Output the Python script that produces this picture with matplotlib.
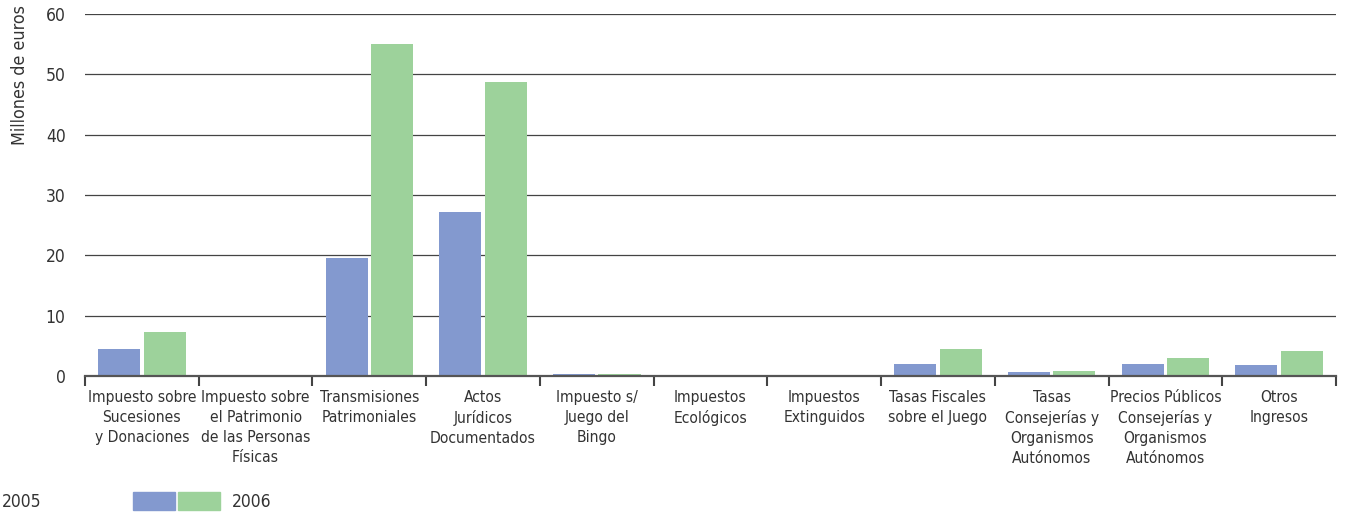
import numpy as np
import matplotlib.pyplot as plt
from matplotlib.patches import Rectangle

categories = [
    "Impuesto sobre\nSucesiones\ny Donaciones",
    "Impuesto sobre\nel Patrimonio\nde las Personas\nFísicas",
    "Transmisiones\nPatrimoniales",
    "Actos\nJurídicos\nDocumentados",
    "Impuesto s/\nJuego del\nBingo",
    "Impuestos\nEcológicos",
    "Impuestos\nExtinguidos",
    "Tasas Fiscales\nsobre el Juego",
    "Tasas\nConsejerías y\nOrganismos\nAutónomos",
    "Precios Públicos\nConsejerías y\nOrganismos\nAutónomos",
    "Otros\nIngresos",
]
values_2005 = [4.5, 0.25, 19.6, 27.2, 0.4, 0.1, 0.0, 2.0, 0.7, 2.0, 1.8]
values_2006 = [7.3, 0.1, 55.0, 48.7, 0.4, 0.1, 0.0, 4.5, 0.9, 3.0, 4.2]
yticks = [0, 10, 20, 30, 40, 50, 60]

blue = '#8399cf'
green = '#9dd29b'
txt = '#333333'

plt.rcParams['font.family'] = ['DejaVu Sans']
plt.rcParams['font.stretch'] = 'condensed'

fig = plt.figure(figsize=(13.47, 5.16), dpi=100)
ax = fig.add_axes([0.0631, 0.2713, 0.9287, 0.7016])

x = np.arange(len(categories))
w = 0.37
ax.bar(x - 0.2, values_2005, width=w, color=blue, zorder=3)
ax.bar(x + 0.2, values_2006, width=w, color=green, zorder=3)

ax.set_xlim(-0.5, len(categories) - 0.5)
ax.set_ylim(0, 60)
ax.set_yticks(yticks)
ax.yaxis.grid(True, color='#444444', lw=0.9, zorder=0)
ax.tick_params(axis='y', length=0, labelsize=12.5, colors=txt, pad=14)

ax.set_xticks(x)
ax.set_xticklabels(categories, fontsize=11.2, color=txt, linespacing=1.42)
ax.set_xticks(np.arange(-0.5, len(categories)), minor=True)
ax.tick_params(axis='x', which='major', length=0, pad=10)
ax.tick_params(axis='x', which='minor', length=7, width=1.5, color='#444444', direction='out')

for s in ['left', 'right', 'top']:
    ax.spines[s].set_visible(False)
ax.spines['bottom'].set_color('#555555')
ax.spines['bottom'].set_linewidth(1.6)
ax.spines['bottom'].set_zorder(4)

fig.text(0.008, 0.99, 'Millones de euros', rotation=90, va='top', ha='left',
         fontsize=12.8, color=txt)

# legend
fig.text(0.0015, 0.027, '2005', fontsize=12.5, color=txt, va='center')
fig.add_artist(Rectangle((133 / 1347, 0.0116), 42 / 1347, 0.035, transform=fig.transFigure, color=blue))
fig.add_artist(Rectangle((178 / 1347, 0.0116), 42 / 1347, 0.035, transform=fig.transFigure, color=green))
fig.text(232 / 1347, 0.027, '2006', fontsize=12.5, color=txt, va='center')

fig.savefig('out.png', dpi=100, facecolor='white')
